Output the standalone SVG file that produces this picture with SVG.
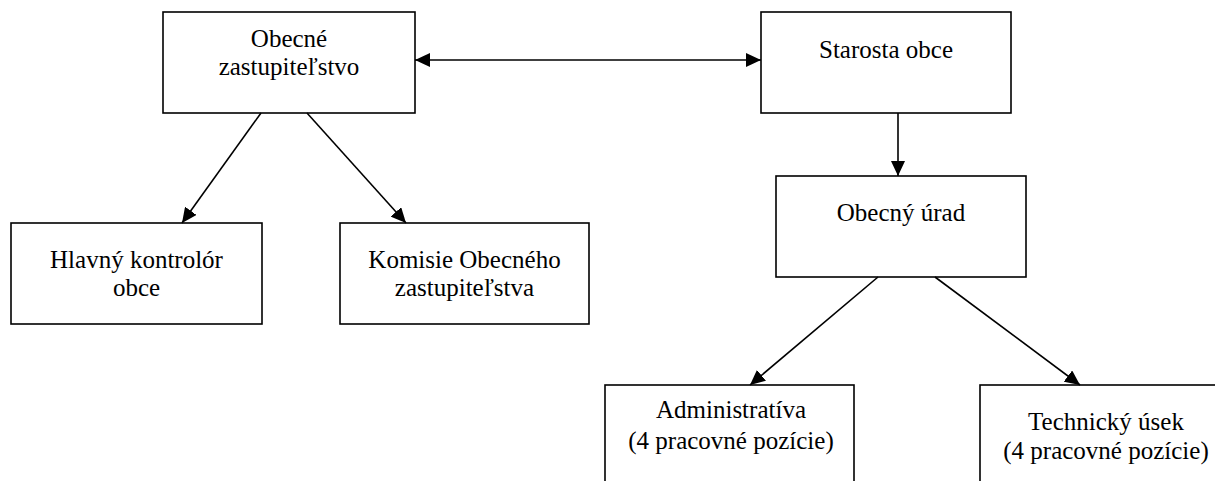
<svg xmlns="http://www.w3.org/2000/svg" width="1215" height="481" viewBox="0 0 1215 481">
<defs>
<style>
.box{fill:#fff;stroke:#000;stroke-width:1.6}
.t{font-size:25px;fill:#000;text-anchor:middle}
.c{stroke:#000;stroke-width:1.6;fill:none}
</style>
<marker id="ah" markerUnits="userSpaceOnUse" markerWidth="16" markerHeight="14" viewBox="0 0 16 14" refX="15" refY="7" orient="auto-start-reverse">
<path d="M0,0 L15,7 L0,14 Z" fill="#000"/>
</marker>
</defs>
<rect width="1215" height="481" fill="#fff"/>
<g font-family="'Liberation Serif', 'Times New Roman', Times, serif">
<g id="n-zastupitelstvo">
<rect class="box" x="163" y="12" width="252" height="101"/>
<text class="t" x="289" y="47">Obecné</text>
<text class="t" x="289" y="75">zastupiteľstvo</text>
</g>
<g id="n-starosta">
<rect class="box" x="761" y="12" width="250" height="101"/>
<text class="t" x="886" y="58">Starosta obce</text>
</g>
<g id="n-urad">
<rect class="box" x="776" y="176" width="250" height="101"/>
<text class="t" x="901" y="221">Obecný úrad</text>
</g>
<g id="n-kontrolor">
<rect class="box" x="11" y="223" width="251" height="101"/>
<text class="t" x="136.5" y="268">Hlavný kontrolór</text>
<text class="t" x="136.5" y="296">obce</text>
</g>
<g id="n-komisie">
<rect class="box" x="340" y="223" width="249" height="101"/>
<text class="t" x="464.5" y="268">Komisie Obecného</text>
<text class="t" x="464.5" y="296">zastupiteľstva</text>
</g>
<g id="n-administrativa">
<rect class="box" x="605" y="385" width="249" height="110"/>
<text class="t" x="731" y="418">Administratíva</text>
<text class="t" x="731" y="449">(4 pracovné pozície)</text>
</g>
<g id="n-technicky">
<rect class="box" x="980" y="385" width="250" height="110"/>
<text class="t" x="1106" y="430">Technický úsek</text>
<text class="t" x="1106" y="459">(4 pracovné pozície)</text>
</g>
</g>
<g id="connectors">
<line class="c" x1="415" y1="60" x2="761" y2="60" marker-start="url(#ah)" marker-end="url(#ah)"/>
<line class="c" x1="898" y1="113" x2="898" y2="176" marker-end="url(#ah)"/>
<line class="c" x1="261" y1="113" x2="182" y2="223" marker-end="url(#ah)"/>
<line class="c" x1="307" y1="113" x2="406" y2="223" marker-end="url(#ah)"/>
<line class="c" x1="878" y1="277" x2="750" y2="385" marker-end="url(#ah)"/>
<line class="c" x1="935" y1="277" x2="1080" y2="385" marker-end="url(#ah)"/>
</g>
</svg>
